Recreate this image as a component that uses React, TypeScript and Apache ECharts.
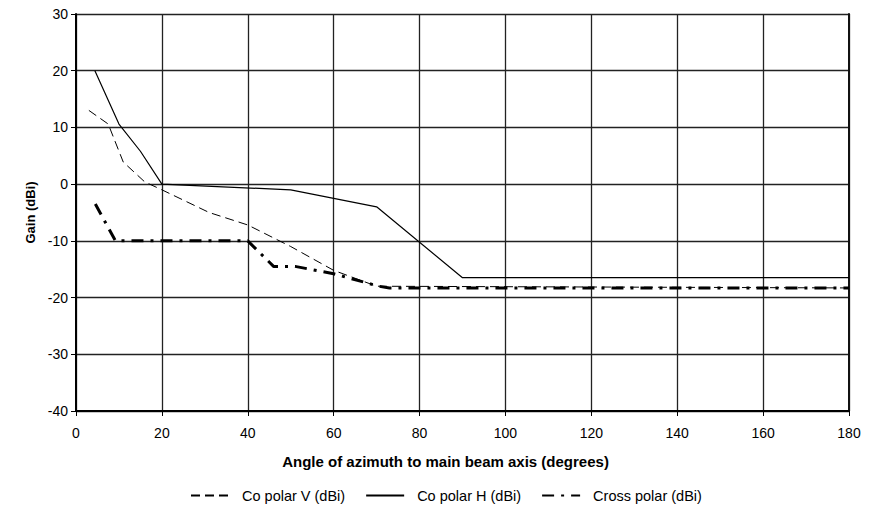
import React, { useEffect, useRef } from "react";
import * as echarts from "echarts";

const xTicks = [0, 20, 40, 60, 80, 100, 120, 140, 160, 180];
const yTicks = [-40, -30, -20, -10, 0, 10, 20, 30];

const seriesNames = ["Co polar V (dBi)", "Co polar H (dBi)", "Cross polar (dBi)"];

const coPolarV: [number, number][] = [
  [3, 13], [7.5, 10.6], [11, 3.9], [16, 0.4], [20, -1], [31, -5], [40, -7.2],
  [50, -11], [60, -15.2], [70, -18], [180, -18.3],
];
const coPolarH: [number, number][] = [
  [4.4, 20], [10, 10.6], [15, 5.8], [20, 0], [50, -1], [70, -4], [90, -16.5], [180, -16.5],
];
const crossPolar: [number, number][] = [
  [4.5, -3.5], [9.2, -10], [40, -10], [46, -14.5], [51, -14.5], [60, -15.8],
  [70.5, -18], [73, -18.3], [180, -18.3],
];

const FONT = "'Liberation Sans', Arial, sans-serif";

export default function App() {
  const ref = useRef<HTMLDivElement>(null);
  useEffect(() => {
    if (!ref.current) return;
    const chart = echarts.init(ref.current, undefined, { renderer: "svg" });
    chart.setOption({
      animation: false,
      backgroundColor: "#fff",
      textStyle: { fontFamily: FONT },
      grid: { left: 76, right: 26, top: 14, bottom: 98, containLabel: false },
      legend: {
        data: seriesNames,
        top: 483,
        left: 185,
        itemWidth: 38,
        itemHeight: 14,
        itemGap: 20,
        itemStyle: { opacity: 0 },
        textStyle: { fontFamily: FONT, fontSize: 14.5, color: "#000", padding: [0, 0, 0, 8] },
      },
      xAxis: {
        type: "value",
        min: xTicks[0],
        max: xTicks[xTicks.length - 1],
        interval: 20,
        name: "Angle of azimuth to main beam axis (degrees)",
        nameLocation: "middle",
        nameGap: 43,
        nameTextStyle: {
          fontFamily: FONT,
          fontSize: 15,
          fontWeight: "bold",
          color: "#000",
          padding: [0, 34, 0, 0],
        },
        axisLine: { show: true, onZero: false, lineStyle: { color: "#000", width: 2 } },
        axisTick: { show: true, length: 5, inside: false, lineStyle: { color: "#000", width: 1 } },
        axisLabel: { color: "#000", fontSize: 14, fontFamily: FONT, margin: 15 },
        splitLine: { show: true, lineStyle: { color: "#222", width: 1.3 } },
      },
      yAxis: [
        {
          type: "value",
          min: yTicks[0],
          max: yTicks[yTicks.length - 1],
          interval: 10,
          name: "Gain (dBi)",
          nameLocation: "middle",
          nameGap: 38,
          nameTextStyle: { fontFamily: FONT, fontSize: 13, fontWeight: "bold", color: "#000" },
          axisLine: { show: true, onZero: false, lineStyle: { color: "#000", width: 2 } },
          axisTick: { show: true, length: 5, inside: false, lineStyle: { color: "#000", width: 1 } },
          axisLabel: { color: "#000", fontSize: 14, fontFamily: FONT, margin: 8 },
          splitLine: { show: true, lineStyle: { color: "#222", width: 1.3 } },
        },
        {
          type: "value",
          position: "right",
          min: yTicks[0],
          max: yTicks[yTicks.length - 1],
          interval: 10,
          axisLine: { show: true, onZero: false, lineStyle: { color: "#111", width: 2 } },
          axisTick: { show: false },
          axisLabel: { show: false },
          splitLine: { show: false },
        },
      ],
      series: [
        {
          name: seriesNames[0],
          type: "line",
          data: coPolarV,
          symbol: "none",
          lineStyle: { color: "#000", width: 1, type: [9, 5] },
          itemStyle: { color: "#000" },
          z: 3,
        },
        {
          name: seriesNames[1],
          type: "line",
          data: coPolarH,
          symbol: "none",
          lineStyle: { color: "#000", width: 1.2, type: "solid" },
          itemStyle: { color: "#000" },
          z: 4,
        },
        {
          name: seriesNames[2],
          type: "line",
          data: crossPolar,
          symbol: "none",
          lineStyle: { color: "#000", width: 3, type: [12, 7, 3, 7] },
          itemStyle: { color: "#000" },
          z: 5,
        },
      ],
    });
    return () => chart.dispose();
  }, []);
  return (
    <div
      ref={ref}
      style={{ position: "absolute", left: 0, top: 0, width: 875, height: 509 }}
    />
  );
}
